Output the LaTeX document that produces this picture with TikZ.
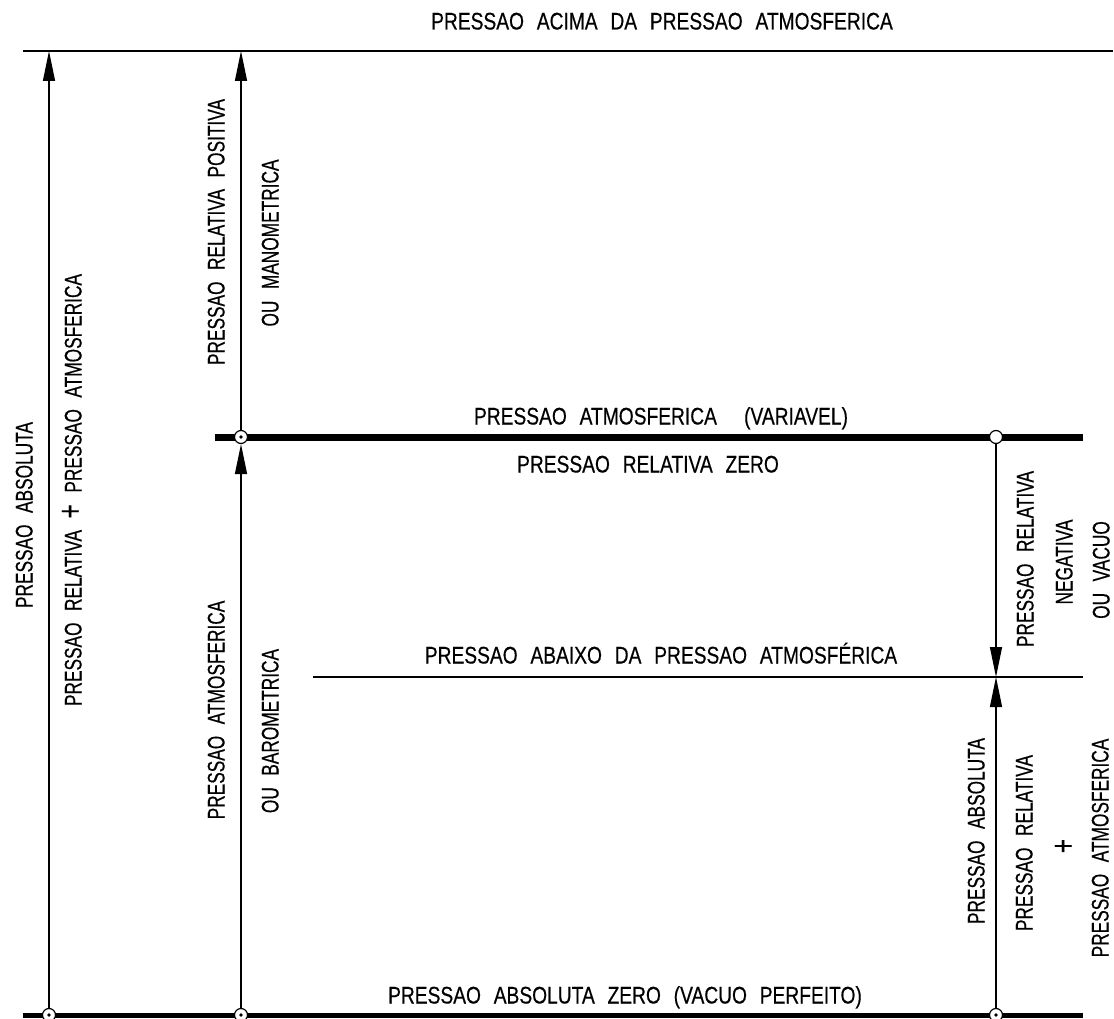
\documentclass[tikz,border=0pt]{standalone}
\usepackage{fontspec}
\usetikzlibrary{arrows.meta}

\newfontfamily\hfont{Liberation Sans}[FakeStretch=0.8,WordSpace=2.4,FakeBold=0.4]
\newfontfamily\vfont{Liberation Sans}[FakeStretch=0.72,WordSpace=2.4,FakeBold=0.4]
\newcommand\bigplus{{\fontsize{34}{24}\selectfont+}}

\tikzset{
  thinline/.style={line width=1.5pt},
  heavyline/.style={line width=#1},
  dimarrow/.style={line width=1.4pt, -{Triangle[length=30pt,width=12pt]}},
  hlabel/.style={inner sep=0pt, text height=17pt, text depth=0pt,
    font=\hfont\fontsize{24}{24}\selectfont},
  vlabel/.style={hlabel, rotate=90, font=\vfont\fontsize{24}{24}\selectfont},
  joint/.style={circle, draw, fill=white, line width=1.2pt, inner sep=0pt, minimum size=13pt}
}

\begin{document}
\begin{tikzpicture}[x=1pt, y=-1pt]

  \useasboundingbox (0,0) rectangle (1114,1019);

  % Levels
  \coordinate (topL) at (23,51);
  \coordinate (topR) at (1113,51);
  \coordinate (atmL) at (215,437);
  \coordinate (atmR) at (1083,437);
  \coordinate (lowL) at (313,677);
  \coordinate (lowR) at (1083,677);
  \coordinate (zeroL) at (23,1015);
  \coordinate (zeroR) at (1083,1015);

  \draw[thinline] (topL) -- (topR);
  \draw[heavyline=7pt] (atmL) -- (atmR);
  \draw[thinline] (lowL) -- (lowR);
  \draw[heavyline=5pt] (zeroL) -- (zeroR);

  % Joints
  \node[joint] (b1) at (49,1015) {};
  \node[joint] (b2) at (241,1015) {};
  \node[joint] (b3) at (996,1015) {};
  \node[joint] (j1) at (241,437) {};
  \node[joint] (j2) at (996,437) {};
  \foreach \j in {b1,b2,b3,j1}
    \fill (\j) circle (1.8pt);

  % Arrow ends
  \coordinate (t1) at (49,51);
  \coordinate (t2) at (241,51);
  \coordinate (m3) at (996,677);

  % Arrows
  \draw[dimarrow] (b1) -- (t1);
  \draw[dimarrow] (j1) -- (t2);
  \draw[dimarrow] (b2) -- (j1);
  \draw[dimarrow] (j2) -- (m3);
  \draw[dimarrow] (b3) -- (m3);

  % Horizontal labels
  \node[hlabel] (acima) at (662,21) {PRESSAO ACIMA DA PRESSAO ATMOSFERICA};
  \node[hlabel] (atm) at (661,416) {PRESSAO ATMOSFERICA\hspace{0.6em} (VARIAVEL)};
  \node[hlabel] (relzero) at (648,464) {PRESSAO RELATIVA ZERO};
  \node[hlabel] (abaixo) at (661,655) {PRESSAO ABAIXO DA PRESSAO ATMOSFÉRICA};
  \node[hlabel] (abszero) at (625,995) {PRESSAO ABSOLUTA ZERO (VACUO PERFEITO)};

  % Vertical labels, left
  \node[vlabel] (abs1) at (24,515) {PRESSAO ABSOLUTA};
  \node[vlabel] (soma1) at (73,490) {PRESSAO RELATIVA \bigplus{} PRESSAO ATMOSFERICA};
  \node[vlabel] (pos) at (216,232) {PRESSAO RELATIVA POSITIVA};
  \node[vlabel] (mano) at (270,243) {OU MANOMETRICA};
  \node[vlabel] (patm) at (216,710) {PRESSAO ATMOSFERICA};
  \node[vlabel] (baro) at (270,731) {OU BAROMETRICA};

  % Vertical labels, right
  \node[vlabel] (neg1) at (1025,559) {PRESSAO RELATIVA};
  \node[vlabel] (neg2) at (1064,562) {NEGATIVA};
  \node[vlabel] (neg3) at (1101,570) {OU VACUO};
  \node[vlabel] (abs2) at (976,831) {PRESSAO ABSOLUTA};
  \node[vlabel] (soma2) at (1024,843) {PRESSAO RELATIVA};
  \node[vlabel] (plus) at (1066,846) {\bigplus};
  \node[vlabel] (soma3) at (1100,848) {PRESSAO ATMOSFERICA};

\end{tikzpicture}
\end{document}
